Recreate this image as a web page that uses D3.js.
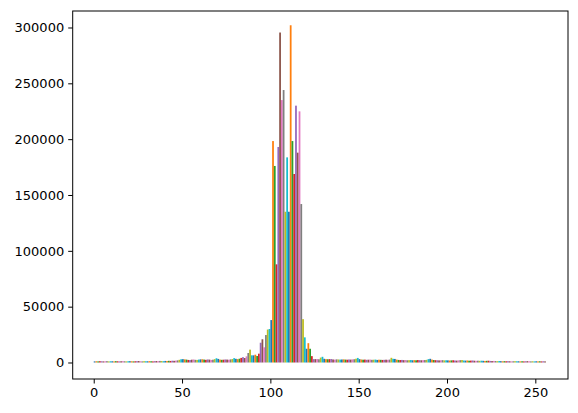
<!DOCTYPE html>
<html><head><meta charset="utf-8">
<script src="https://cdn.jsdelivr.net/npm/d3@7"></script>
<style>body{margin:0;background:#fff} text{font-family:"DejaVu Sans",sans-serif;}</style>
</head><body><svg id="c" width="578" height="413"></svg>
<script>
// bin index 0..255 (pixel intensity), counts per bin
const counts = [
 1000,1100,1000,1200,1100,1000,1100,1200,1000,1100,
 1100,1000,1200,1100,1000,1100,1200,1100,1000,1100,
 1200,1100,1000,1100,1200,1300,1100,1000,1200,1100,
 1100,1200,1100,1000,1200,1300,1200,1400,1300,1200,
 1400,1300,1500,1400,1600,1500,1700,1900,2400,2900,
 3000,2800,2600,2300,2200,2500,2700,2400,2300,2600,
 2800,2900,2600,2400,2700,2600,2300,2500,3000,3800,
 3200,2600,2400,2500,2700,2600,2500,2800,3100,3900,
 3300,3000,3400,4100,4800,4000,5500,8500,11500,6400,
 6400,7000,5800,7900,17700,20800,13600,24600,29500,30000,
 38000,198300,176000,87900,193000,295500,235000,244000,135000,183700,
 135000,302000,198300,168800,230000,187900,224900,141900,38800,22500,
 12300,17300,12300,5700,3000,3000,3100,2900,4400,5100,
 3300,3000,2900,3000,3100,2700,2600,2800,2700,2600,
 2700,2800,2600,2500,2700,2600,2800,2900,3400,4100,
 3000,2700,2500,2600,2400,2500,2600,2400,2500,2600,
 2300,2500,2400,2300,2400,2500,2400,2600,4200,3300,
 3200,2600,2300,2200,2300,2100,2200,2000,2100,2200,
 2000,2100,2000,2200,2100,2000,2100,2200,2400,3000,
 3300,2600,2200,2100,2000,1900,2000,2100,1900,2000,
 1900,1800,1900,2000,1800,1700,1900,2100,2200,1800,
 1700,1800,1600,1700,1800,1600,1500,1600,1500,1600,
 1500,1400,1500,1600,1400,1300,1400,1300,1200,1300,
 1200,1100,1200,1100,1200,1100,1000,1100,1200,1100,
 1100,1000,1100,1000,1100,1200,1100,1000,1100,1000,
 1100,1000,1100,1000,1100,1000
];
const bins = counts.map((_, i) => i);
const xTicks = [0, 50, 100, 150, 200, 250];
const yTicks = [0, 50000, 100000, 150000, 200000, 250000, 300000];
const palette = ["#1f77b4","#ff7f0e","#2ca02c","#d62728","#9467bd","#8c564b","#e377c2","#7f7f7f","#bcbd22","#17becf"];

const L = 72.7, R = 568, T = 11, B = 379;
const svg = d3.select("#c");
const x = d3.scaleLinear().domain([-11.9, 268.5]).range([L, R]);
const y = d3.scaleLinear().domain([-14780, 314770]).range([B, T]);

svg.append("g").selectAll("rect").data(bins).join("rect")
  .attr("x", d => x(d))
  .attr("width", d => x(d + 1) - x(d))
  .attr("y", d => y(counts[d]))
  .attr("height", d => y(0) - y(counts[d]))
  .attr("fill", d => palette[d % 10]);

const xAxis = d3.axisBottom(x).tickValues(xTicks).tickFormat(d3.format("d")).tickSizeOuter(0).tickSize(4.5).tickPadding(4);
const yAxis = d3.axisLeft(y).tickValues(yTicks).tickFormat(d3.format("d")).tickSizeOuter(0).tickSize(4.5).tickPadding(4);

const gx = svg.append("g").attr("transform", `translate(0,${B})`).call(xAxis);
const gy = svg.append("g").attr("transform", `translate(${L},0)`).call(yAxis);
[gx, gy].forEach(g => {
  g.select(".domain").remove();
  g.selectAll("line").attr("stroke", "#000").attr("stroke-width", 1);
  g.selectAll("text").attr("fill", "#000").style("font-size", "13px").style("font-family", "'DejaVu Sans', sans-serif");
});

svg.append("rect").attr("x", L).attr("y", T).attr("width", R - L).attr("height", B - T)
  .attr("fill", "none").attr("stroke", "#000").attr("stroke-width", 1);
</script></body></html>
